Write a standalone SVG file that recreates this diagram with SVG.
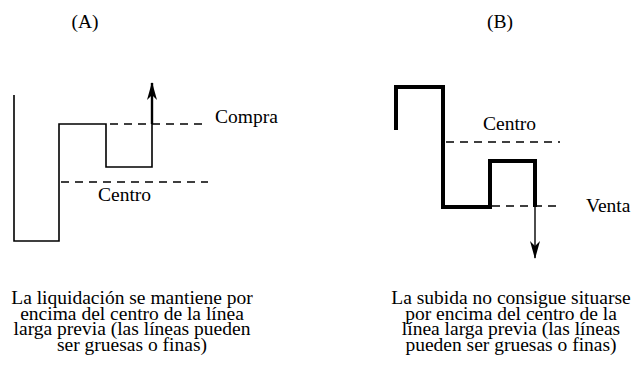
<svg xmlns="http://www.w3.org/2000/svg" width="634" height="369" viewBox="0 0 634 369">
<style>
.lbl{font-size:19.5px}
.cap{font-size:19.5px;text-anchor:middle}
.thin{fill:none;stroke:#000;stroke-width:1.6}
.thick{fill:none;stroke:#000;stroke-width:4;stroke-linejoin:miter}
.dash{fill:none;stroke:#000;stroke-width:1.3;stroke-dasharray:8 6}
</style>
<defs>
<marker id="ah" markerWidth="18" markerHeight="10" refX="17" refY="5" orient="auto" markerUnits="userSpaceOnUse" viewBox="0 0 18 10">
<path d="M0,0 L18,5 L0,10 L5,5 Z" fill="#000"/>
</marker>
</defs>
<rect width="634" height="369" fill="#fff"/>
<g font-family="Liberation Serif, Times New Roman, DejaVu Serif, serif" fill="#000">
<g id="panelA">
<text class="lbl" x="85" y="28" text-anchor="middle">(A)</text>
<path class="thin" d="M14,95 V241 H59 V124 H106 V167 H152 V100"/>
<line x1="152" y1="124" x2="152" y2="83" stroke="#000" stroke-width="2.4" marker-end="url(#ah)"/>
<text class="lbl" x="215" y="123">Compra</text>
<text class="lbl" x="98" y="201">Centro</text>
<text class="cap" x="132" y="304">La liquidación se mantiene por</text>
<text class="cap" x="132" y="319.5">encima del centro de la línea</text>
<text class="cap" x="132" y="335">larga previa (las líneas pueden</text>
<text class="cap" x="132" y="350.5">ser gruesas o finas)</text>
</g>
<g id="panelB">
<text class="lbl" x="500" y="28" text-anchor="middle">(B)</text>
<path class="thick" d="M396,130 V87 H443 V207 H490 V161 H535 V207"/>
<line x1="535" y1="205" x2="535" y2="258" stroke="#000" stroke-width="1.4" marker-end="url(#ah)"/>
<text class="lbl" x="483" y="130">Centro</text>
<text class="lbl" x="586" y="212">Venta</text>
<text class="cap" x="511" y="304">La subida no consigue situarse</text>
<text class="cap" x="511" y="319.5">por encima del centro de la</text>
<text class="cap" x="511" y="335">línea larga previa (las líneas</text>
<text class="cap" x="511" y="350.5">pueden ser gruesas o finas)</text>
</g>
</g>
<g id="connectors">
<line class="dash" x1="110" y1="124" x2="208" y2="124"/>
<line class="dash" x1="61" y1="182" x2="208" y2="182"/>
<line class="dash" x1="446" y1="142" x2="560" y2="142"/>
<line class="dash" x1="492" y1="206" x2="560" y2="206"/>
</g>
</svg>
